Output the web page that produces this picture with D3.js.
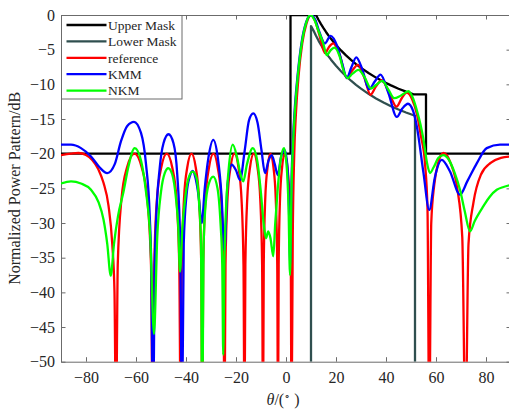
<!DOCTYPE html>
<html>
<head>
<meta charset="utf-8">
<script src="https://cdn.jsdelivr.net/npm/d3@7"></script>
<style>
  body { margin: 0; background: #fff; }
  svg text { font-family: "Liberation Serif", "Times New Roman", serif; }
</style>
</head>
<body>
<div id="chart"></div>
<script>
// Masks (theta in degrees, level in dB)
const upperMask = [[-90,-20],[1.8,-20],[1.8,0],[12,0],[13,-0.69],[14,-1.32],[15,-1.9],[16,-2.45],[17,-2.96],[18,-3.44],
  [20,-4.32],[22,-5.11],[24,-5.83],[26,-6.48],[28,-7.08],[30,-7.62],[33,-8.37],[36,-9.03],[39,-9.62],[42,-10.15],
  [45,-10.63],[48,-11.06],[51,-11.45],[56,-11.45],[56,-20],[90,-20]];
const lowerMask = [[10,-50],[10,-1.6],[11,-2.25],[12,-3],[13,-3.69],[14,-4.32],[15,-4.9],[16,-5.45],[17,-5.96],[18,-6.44],
  [20,-7.32],[22,-8.11],[24,-8.83],[26,-9.48],[28,-10.08],[30,-10.62],[33,-11.37],[36,-12.03],[39,-12.62],[42,-13.15],
  [45,-13.63],[48,-14.06],[51.6,-14.53],[51.6,-50]];

// reference pattern
const referencePts = [[-90,-20.2],[-86,-20.0],[-83,-19.9],[-80,-20.2],[-77.5,-20.9],[-75,-22.3],[-73,-24.2],[-71,-27.5],[-69.5,-33],[-68.6,-40],[-68,-60],
  [-67.3,-36],[-65.8,-26.5],[-63.6,-22],[-60.6,-20],[-57.7,-22],[-55.5,-26.5],[-54.0,-36],[-53.3,-60],
  [-52.7,-36],[-51.6,-26.5],[-49.9,-22],[-47.7,-20],[-45.5,-22],[-43.8,-26.5],[-42.7,-36],[-42.1,-60],
  [-41.7,-36],[-40.8,-26.5],[-39.5,-22],[-37.8,-20],[-36.1,-22],[-34.8,-26.5],[-33.9,-36],[-33.5,-60],
  [-33.1,-36],[-32.2,-26.5],[-30.8,-22],[-29.05,-20],[-27.3,-22],[-25.9,-26.5],[-25.05,-36],[-24.6,-60],
  [-24.2,-36],[-23.4,-26.5],[-22.2,-22],[-20.6,-20],[-19.0,-22],[-17.8,-26.5],[-17.0,-36],[-16.6,-60],
  [-16.25,-36],[-15.5,-26.5],[-14.4,-22],[-12.9,-20],[-11.4,-22],[-10.3,-26.5],[-9.55,-36],[-9.2,-60],
  [-8.9,-36],[-8.3,-26.5],[-7.4,-22],[-6.2,-20],[-5.0,-22],[-4.1,-26.5],[-3.5,-36],[-3.2,-60],
  [-2.93,-36],[-2.39,-26.5],[-1.58,-22],[-0.5,-20],[0.58,-22],[1.39,-26.5],[1.93,-36],[2.2,-60],
  [2.7,-32],[3.3,-20],[4,-14],[5,-8.9],[6.5,-4.1],[8.2,-1.2],[10,0],[11.7,-0.9],[13.3,-2.8],[15.6,-5.5],[17.2,-4.6],[18.9,-4.1],
  [21.5,-5.8],[24.3,-9.1],[26.5,-8],[28.8,-7.2],[31.3,-9],[33.8,-11.5],[36,-10.3],[38.3,-9.4],[41.2,-11.2],[44.2,-13.2],
  [46.3,-12],[48.3,-11.2],[50.5,-12.2],[52.5,-14.5],[54,-17.5],[55.6,-21.4],[56.6,-28],[57.3,-60],[58.1,-30],[59.3,-24.5],
  [60.8,-21.4],[63,-19.9],[66,-21.5],[68.5,-25],[70.5,-32],[71.8,-60],[73,-33],[75,-27],[78,-23],[82,-21.3],[86,-20.6],[90,-20.4]];

// KMM pattern
const kmmPts = [[-90,-18.7],[-86,-18.7],[-82,-19.2],[-78,-20.4],[-74.5,-22.0],[-71.5,-22.8],[-68.5,-21.5],[-66,-18.2],[-63.5,-16],
  [-60.8,-15.4],[-58,-17],[-56,-21.5],[-54.5,-29],[-53.9,-36],[-53.2,-60],[-52.5,-36],[-52,-30],[-50.5,-22],[-49,-18.5],
  [-47,-17.2],[-45,-18.5],[-43.5,-23],[-42.3,-33],[-41.6,-60],[-40.9,-33],[-39.8,-26],[-38.5,-23.3],[-37.3,-22.5],[-36.2,-23.5],
  [-35,-26],[-33.7,-30],[-32.5,-25],[-31,-20.5],[-29.1,-18],[-27.3,-20.5],[-25.8,-26],[-24.6,-34],[-23.4,-24.5],[-21.7,-21.6],
  [-20,-22.4],[-18.4,-23.8],[-16.5,-19.5],[-14.8,-15.2],[-13.1,-14.2],[-11.4,-15.5],[-9.8,-19.5],[-8.4,-22.8],[-7,-21],
  [-5.7,-20.2],[-4.5,-21.5],[-3.3,-23.1],[-2,-20.5],[-0.5,-19.5],[0.6,-22],[1.2,-28],[1.7,-36],[2.2,-24],[2.8,-18],[3.6,-13],
  [4.7,-8.5],[6.3,-3.8],[8,-1.1],[10,0],[11.7,-0.7],[13.5,-2.6],[15.6,-4.1],[17.8,-3.0],[20.5,-4.5],[22.5,-7],[24.3,-9.1],
  [26.2,-7.5],[28.1,-6.1],[30.5,-7.8],[33.2,-10.7],[35.5,-9.6],[37.8,-8.6],[41,-11.3],[44.3,-14.7],[46.5,-13.5],[48.8,-12.8],
  [50.8,-13.8],[52.3,-16],[55,-22.8],[57.3,-28.1],[59.5,-23.5],[62.3,-20.9],[65.5,-22.5],[69.6,-25.9],[72.5,-24],[76.3,-21.4],
  [80.3,-19.2],[85.6,-18.7],[90,-18.7]];

// NKM pattern
const nkmPts = [[-90,-24.3],[-86,-24.0],[-82,-24.3],[-78,-25.2],[-75,-27],[-73,-29.5],[-71.5,-33],[-70.1,-37.6],[-68.8,-33],
  [-67.2,-29],[-65,-25.5],[-63,-21.8],[-60.5,-19.2],[-58,-21],[-56,-25.5],[-54.3,-32],[-52.8,-46],[-51.5,-32],[-50,-25.5],
  [-48.5,-22.8],[-47.1,-22.1],[-45.5,-23],[-44,-26.5],[-43.1,-30.5],[-42.4,-37],[-41.5,-31],[-40.2,-26],[-38.8,-23.3],
  [-37.3,-22.6],[-35.8,-23.5],[-34.7,-27.5],[-34,-33],[-33.5,-60],[-33,-34],[-32.3,-28],[-31,-24.5],[-29.1,-23.3],[-27.4,-25],
  [-26.2,-30],[-25.5,-36],[-25.1,-49],[-24.6,-35],[-24,-28],[-23,-22.5],[-21.3,-18.7],[-19.6,-20.5],[-18.3,-22.8],[-17.1,-24.0],
  [-15.6,-21.5],[-13.3,-19.2],[-11.5,-21],[-10.2,-25],[-8.8,-30.5],[-8,-32.2],[-7.1,-31.2],[-6.2,-32.2],[-5.1,-34.8],[-4.3,-30],
  [-3.3,-25],[-2.2,-21],[-0.8,-19.2],[0.3,-22],[1,-27.5],[1.6,-37.5],[2.2,-25],[2.9,-18],[3.6,-13.7],[4.7,-8.9],[6.3,-4.1],
  [8,-1.2],[9.8,0],[11.5,-0.8],[12.9,-2.2],[14.9,-4.1],[16.3,-5.8],[17.8,-5.1],[19.4,-4.7],[21.5,-6.0],[23,-8],[24.6,-9.1],
  [26.5,-8.5],[29,-7.9],[31.5,-9],[34,-10.6],[36,-10.1],[38.5,-9.5],[41,-10.8],[43.3,-12],[46,-11.6],[49,-11],[50.8,-12],
  [52.3,-13.7],[53.8,-15.8],[55,-18],[56.5,-21.5],[57.6,-22.8],[59,-22],[61,-20.6],[63,-20.2],[65,-20.8],[67.5,-22.8],
  [69.6,-25.2],[71.5,-28.3],[73.6,-31.2],[75.5,-29.7],[78.9,-27.6],[81.5,-26.2],[84.3,-25.2],[87,-24.8],[90,-24.5]];

const xTicks = [-80, -60, -40, -20, 0, 20, 40, 60, 80];
const yTicks = [0, -5, -10, -15, -20, -25, -30, -35, -40, -45, -50];
const legendLabels = ["Upper Mask", "Lower Mask", "reference", "KMM", "NKM"];

const W = 509, H = 409;
const plot = { left: 61, right: 511, top: 15, bottom: 361.7 };
const serif = '"Liberation Serif", "Times New Roman", serif';

const svg = d3.select("#chart").append("svg")
  .attr("width", W)
  .attr("height", H);

const x = d3.scaleLinear().domain([-90, 90]).range([plot.left, plot.right]);
const y = d3.scaleLinear().domain([-50, 0]).range([plot.bottom, plot.top]);

svg.append("defs").append("clipPath")
  .attr("id", "clip")
  .append("rect")
  .attr("x", plot.left).attr("y", plot.top)
  .attr("width", plot.right - plot.left).attr("height", plot.bottom - plot.top);

// Axes with inward ticks
const axisColor = "#6b6b6b";
function styleAxis(g) {
  g.attr("font-family", serif).attr("font-size", 16);
  g.select(".domain").attr("stroke", axisColor).attr("stroke-width", 1);
  g.selectAll(".tick line").attr("stroke", axisColor);
  g.selectAll(".tick text").attr("fill", "#262626");
}

svg.append("g")
  .attr("transform", `translate(0,${plot.bottom})`)
  .call(d3.axisBottom(x).tickValues(xTicks).tickSizeInner(-4.5).tickSizeOuter(0).tickPadding(10))
  .call(styleAxis);
svg.append("g")
  .attr("transform", `translate(0,${plot.top})`)
  .call(d3.axisTop(x).tickValues(xTicks).tickSizeInner(-4.5).tickSizeOuter(0).tickFormat(""))
  .call(styleAxis);
svg.append("g")
  .attr("transform", `translate(${plot.left},0)`)
  .call(d3.axisLeft(y).tickValues(yTicks).tickSizeInner(-4.5).tickSizeOuter(0).tickPadding(6))
  .call(styleAxis);
svg.append("g")
  .attr("transform", `translate(${plot.right},0)`)
  .call(d3.axisRight(y).tickValues(yTicks).tickSizeInner(-4.5).tickSizeOuter(0).tickFormat(""))
  .call(styleAxis);

// Curves
const straight = d3.line().x(d => x(d[0])).y(d => y(d[1]));
const smooth = d3.line().x(d => x(d[0])).y(d => y(d[1])).curve(d3.curveMonotoneX);

const series = [
  { pts: upperMask, color: "#000000", line: straight },
  { pts: lowerMask, color: "#2f4f4f", line: straight },
  { pts: referencePts, color: "#ff0000", line: smooth },
  { pts: kmmPts, color: "#0000ff", line: smooth },
  { pts: nkmPts, color: "#00ff00", line: smooth }
];

const plotG = svg.append("g").attr("clip-path", "url(#clip)");
series.forEach(s => {
  plotG.append("path")
    .attr("d", s.line(s.pts))
    .attr("fill", "none")
    .attr("stroke", s.color)
    .attr("stroke-width", 2.3)
    .attr("stroke-linejoin", "round");
});

// Legend
const legend = svg.append("g");
legend.append("rect")
  .attr("x", 61.5).attr("y", 15.5)
  .attr("width", 120.5).attr("height", 83.5)
  .attr("fill", "#fff")
  .attr("stroke", axisColor);
legendLabels.forEach((label, i) => {
  const ly = 25 + i * 16.4;
  legend.append("line")
    .attr("x1", 66.5).attr("x2", 106.5)
    .attr("y1", ly).attr("y2", ly)
    .attr("stroke", series[i].color)
    .attr("stroke-width", 2.3);
  legend.append("text")
    .attr("x", 108).attr("y", ly)
    .attr("dy", "0.35em")
    .attr("fill", "#262626")
    .attr("font-family", serif)
    .attr("font-size", 13.5)
    .text(label);
});

// Axis labels
svg.append("text")
  .attr("transform", `translate(20,${(plot.top + plot.bottom) / 2}) rotate(-90)`)
  .attr("text-anchor", "middle")
  .attr("fill", "#262626")
  .attr("font-family", serif)
  .attr("font-size", 16)
  .text("Normalized Power Pattern/dB");

const xl = svg.append("text")
  .attr("x", 283).attr("y", 405)
  .attr("text-anchor", "middle")
  .attr("fill", "#262626")
  .attr("font-family", serif)
  .attr("font-size", 16);
xl.append("tspan").style("font-style", "italic").text("θ");
xl.append("tspan").text("/(");
xl.append("tspan").attr("dy", -6).attr("font-size", 10).text("∘");
xl.append("tspan").attr("dy", 6).text("  )");
</script>
</body>
</html>
